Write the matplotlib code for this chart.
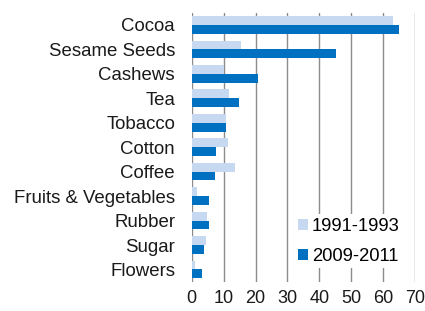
import matplotlib
matplotlib.use("Agg")
import matplotlib.pyplot as plt
import numpy as np

categories = ["Cocoa", "Sesame Seeds", "Cashews", "Tea", "Tobacco", "Cotton",
              "Coffee", "Fruits & Vegetables", "Rubber", "Sugar", "Flowers"]
v_1991 = [63.2, 15.4, 10.2, 11.7, 10.6, 11.4, 13.7, 1.6, 4.9, 4.4, 1.1]
v_2009 = [64.9, 45.3, 20.9, 14.9, 10.6, 7.5, 7.2, 5.5, 5.4, 3.9, 3.1]
xticks = [0, 10, 20, 30, 40, 50, 60, 70]

plt.rcParams['font.family'] = ['Liberation Sans', 'DejaVu Sans']

fig = plt.figure(figsize=(4.25, 3.11), dpi=100)
ax = fig.add_axes([191.7/425, 1 - 281.7/311, (415 - 191.7)/425, (281.7 - 12.7)/311])

y = np.arange(len(categories))
h = 0.36
ax.barh(y - h/2, v_1991, height=h, color="#c6d9f1", label="1991-1993", zorder=3)
ax.barh(y + h/2, v_2009, height=h, color="#0070c0", label="2009-2011", zorder=3)

ax.set_ylim(len(categories) - 0.5, -0.5)
ax.set_xlim(0, 70)
ax.set_xticks(xticks)
ax.set_xticklabels([str(t) for t in xticks], fontsize=13)
ax.set_yticks(y)
ax.set_yticklabels(categories, fontsize=13.4)
ax.tick_params(axis='both', length=0, colors="#1a1a1a")
ax.tick_params(axis='x', pad=6)
ax.tick_params(axis='y', pad=12)
for s in ax.spines.values():
    s.set_visible(False)
ax.grid(axis='x', color="#8c8c8c", linewidth=1.0, zorder=0)

leg = ax.legend(loc="center left", bbox_to_anchor=(294.6/425, 1 - 241.3/311),
                bbox_transform=fig.transFigure, borderaxespad=0, frameon=True,
                fontsize=13.2, handlelength=0.55, handleheight=0.55, handletextpad=0.2,
                labelspacing=0.68, borderpad=0.2)
leg.get_frame().set_edgecolor("white")
leg.get_frame().set_facecolor("white")
leg.get_frame().set_alpha(1)
leg.get_frame().set_linewidth(0)
leg.get_frame().set_boxstyle("square", pad=0)

fig.savefig("out.png", dpi=100)
